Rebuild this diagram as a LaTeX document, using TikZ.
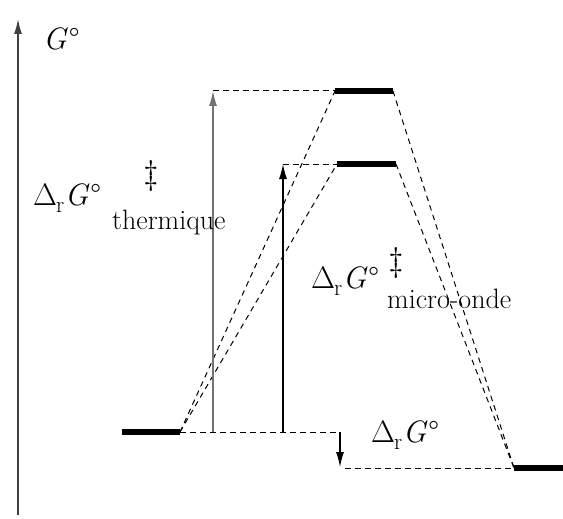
\documentclass[tikz,border=0pt]{standalone}
\usepackage{fontspec}
\setmainfont{Latin Modern Roman}
\usetikzlibrary{arrows.meta}
\newcommand{\myDrG}{Δ\kern-1pt\lower7pt\hbox{\fontsize{23}{26}\selectfont r}\kern0.5pt\textit{G}\kern1pt°}
\begin{document}
\begin{tikzpicture}[x=1pt,y=-1pt,
  level/.style={line width=5.5pt},
  guide/.style={dash pattern=on 5.5pt off 4.5pt, line width=1pt},
  arr/.style={-{Latex[length=15pt,width=8pt]}, line width=1.1pt},
  big/.style={font=\fontsize{31}{34}\selectfont, inner sep=0pt, anchor=base west},
  dag/.style={font=\fontsize{34}{36}\selectfont, inner sep=0pt, anchor=center},
  small/.style={font=\fontsize{28}{30}\selectfont, inner sep=0pt, anchor=base west}]
\useasboundingbox (0,0) rectangle (563,519);
% level coordinates
\coordinate (R1) at (122,432); \coordinate (R2) at (180,432);
\coordinate (T1a) at (335,91); \coordinate (T1b) at (393,91);
\coordinate (T2a) at (337,164); \coordinate (T2b) at (396,164);
\coordinate (P1) at (514,468); \coordinate (P2) at (563,468);
\coordinate (ax0) at (18,515); \coordinate (ax1) at (18,19);
\coordinate (A1b) at (213,432); \coordinate (A1t) at (213,91);
\coordinate (A2b) at (283,432); \coordinate (A2t) at (283,164);
\coordinate (D1) at (340,432); \coordinate (D2) at (340,467);
\coordinate (H1) at (345,468);
% axis
\draw[arr, line width=1.5pt, draw=black!75] (ax0) -- (ax1);
\node[big] (G) at (43,50) {\textit{G}\kern1pt°};
% levels
\draw[level] (R1) -- (R2);
\draw[level] (T1a) -- (T1b);
\draw[level] (T2a) -- (T2b);
\draw[level] (P1) -- (P2);
% dashed connections
\draw[guide] (R2) -- (T1a);
\draw[guide] (R2) -- (T2a);
\draw[guide] (T1b) -- (P1);
\draw[guide] (T2b) -- (P1);
\draw[guide] (A1t) -- (T1a);
\draw[guide] (A2t) -- (T2a);
\draw[guide] (R2) -- (D1);
\draw[guide] (H1) -- (P1);
% arrows
\draw[arr, draw=black!55] (A1b) -- (A1t);
\draw[arr] (A2b) -- (A2t);
\draw[arr] (D1) -- (D2);
% labels
\node[big] (L1) at (33,205) {\myDrG};
\node[dag] (L1d) at (151,176) {‡};
\node[small] (L1s) at (112,229) {thermique};
\node[big] (L2) at (311,288) {\myDrG};
\node[dag] (L2d) at (396,263) {‡};
\node[small] (L2s) at (387,308) {micro-onde};
\node[big] (L3) at (371,442) {\myDrG};
\end{tikzpicture}
\end{document}
